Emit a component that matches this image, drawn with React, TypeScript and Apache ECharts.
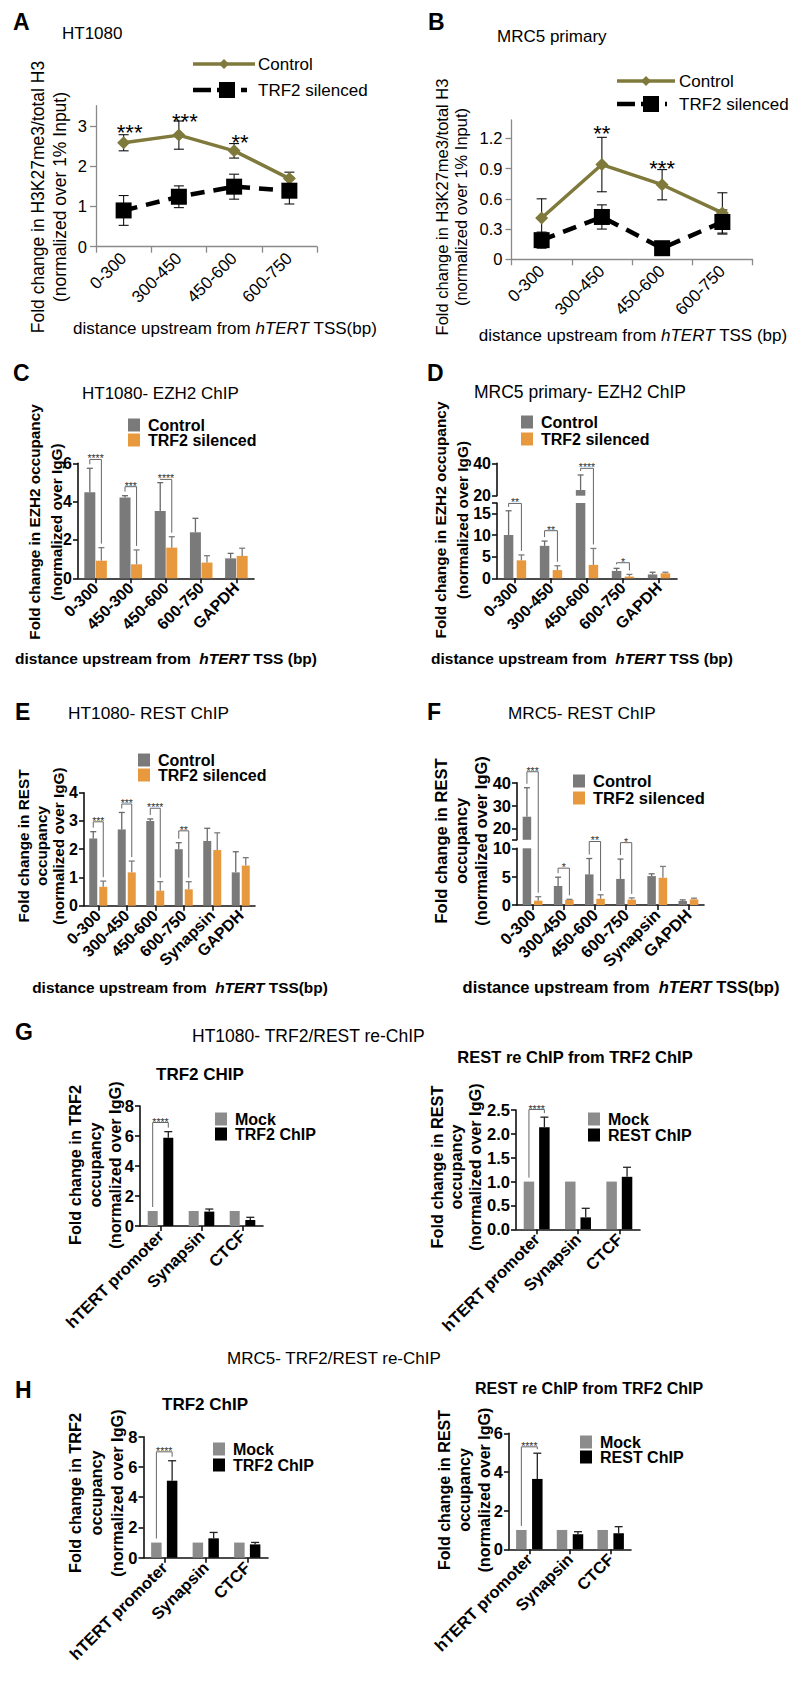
import React, { useEffect, useRef } from 'react';
import * as echarts from 'echarts';

const FONT = '"Liberation Sans", Arial, Helvetica, sans-serif';
const OLIVE = '#7f7a3c';
const GRAY = '#7a7a7a';
const ORANGE = '#e8983d';
const MOCK = '#8c8c8c';
const BLACK = '#000000';

// ---------------- data ----------------
const lineCats = ['0-300', '300-450', '450-600', '600-750'];

// A  HT1080 H3K27me3
const aControl = [2.58, 2.77, 2.38, 1.69];
const aControlErr = [0.2, 0.35, 0.18, 0.16];
const aSilenced = [0.9, 1.24, 1.49, 1.39];
const aSilencedErr = [0.37, 0.27, 0.31, 0.33];
const aStars: [number, number, string][] = [[0, 2.95, '***'], [1, 3.22, '***'], [2, 2.72, '**']];
const aTicks = [0, 1, 2, 3];

// B  MRC5 H3K27me3
const bControl = [0.41, 0.94, 0.74, 0.46];
const bControlErr = [0.19, 0.27, 0.15, 0.2];
const bSilenced = [0.19, 0.42, 0.11, 0.37];
const bSilencedErr = [0.08, 0.12, 0.03, 0.12];
const bStars: [number, number, string][] = [[1, 1.3, '**'], [2, 0.955, '***']];
const bTicks = [0, 0.3, 0.6, 0.9, 1.2];

// C  HT1080 EZH2
const cCats = ['0-300', '450-300', '450-600', '600-750', 'GAPDH'];
const cControl = [4.49, 4.21, 3.51, 2.4, 1.04];
const cControlErr = [1.25, 0.1, 1.48, 0.73, 0.26];
const cSilenced = [0.92, 0.73, 1.6, 0.82, 1.17];
const cSilencedErr = [0.68, 0.75, 0.57, 0.36, 0.4];
const cSig: [number, number, string][] = [[0, 6.2, '****'], [1, 4.78, '***'], [2, 5.16, '****']];

// D  MRC5 EZH2
const dCats = ['0-300', '300-450', '450-600', '600-750', 'GAPDH'];
const dControl = [10, 7.5, 23.5, 1.7, 0.9];
const dControlErr = [5.6, 1.1, 9.3, 0.6, 0.5];
const dSilenced = [4.15, 1.9, 3.1, 0.4, 1.15];
const dSilencedErr = [1.25, 1.0, 3.8, 0.5, 0.25];
const dSig: [number, number, string][] = [[0, 17.3, '**'], [1, 11.0, '**'], [2, 36.9, '****'], [3, 3.6, '*']];

// E  HT1080 REST
const restCats = ['0-300', '300-450', '450-600', '600-750', 'Synapsin', 'GAPDH'];
const eControl = [2.38, 2.7, 3.0, 2.0, 2.29, 1.18];
const eControlErr = [0.24, 0.6, 0.07, 0.23, 0.45, 0.73];
const eSilenced = [0.67, 1.18, 0.53, 0.58, 1.97, 1.42];
const eSilencedErr = [0.2, 0.4, 0.32, 0.27, 0.61, 0.28];
const eSig: [number, number, string][] = [[0, 2.97, '***'], [1, 3.6, '***'], [2, 3.45, '****'], [3, 2.65, '**']];

// F  MRC5 REST
const fControl = [25.1, 3.35, 5.4, 4.6, 5.1, 0.7];
const fControlErr = [12.7, 1.55, 2.8, 3.5, 0.4, 0.2];
const fSilenced = [0.76, 0.9, 1.1, 0.95, 4.8, 1.0];
const fSilencedErr = [0.7, 0.1, 0.7, 0.3, 2.0, 0.2];
const fSig: [number, number, string][] = [[0, 44.8, '***'], [1, 6.5, '*'], [2, 11.2, '**'], [3, 11.0, '*']];

// G / H  re-ChIP
const reCats = ['hTERT promoter', 'Synapsin', 'CTCF'];
const mock = [1, 1, 1];
const mockErr = [0, 0, 0];
const gTrf2 = [5.89, 0.96, 0.4];
const gTrf2Err = [0.4, 0.17, 0.18];
const gRest = [2.14, 0.25, 1.1];
const gRestErr = [0.21, 0.19, 0.2];
const hTrf2 = [5.09, 1.28, 0.88];
const hTrf2Err = [1.32, 0.39, 0.13];
const hRest = [3.64, 0.78, 0.83];
const hRestErr = [1.33, 0.13, 0.34];
const gTrf2Sig: [number, number, string][] = [[0, 6.9, '****']];
const gRestSig: [number, number, string][] = [[0, 2.51, '****']];
const hTrf2Sig: [number, number, string][] = [[0, 7.0, '****']];
const hRestSig: [number, number, string][] = [[0, 5.3, '****']];

// ---------------- helpers ----------------
function txt(x: number, y: number, text: string, o: any = {}) {
  const align = o.align || 'left';
  return {
    type: 'text',
    x,
    y,
    rotation: o.rotation || 0,
    silent: true,
    z: 50,
    style: {
      text,
      fill: o.color || '#000',
      fontFamily: FONT,
      fontSize: o.size || 16,
      fontWeight: o.bold ? 'bold' : 'normal',
      fontStyle: o.italic ? 'italic' : 'normal',
      align,
      verticalAlign: 'middle',
      textAlign: align,
      textVerticalAlign: 'middle',
      rich: o.rich,
    },
  };
}

function vLines(cx: number, cy: number, lines: string[], size: number, bold: boolean, gap: number) {
  return lines.map((t, i) =>
    txt(cx + (i - (lines.length - 1) / 2) * gap, cy, t, { size, bold, align: 'center', rotation: Math.PI / 2 })
  );
}

function xName(cx: number, cy: number, before: string, after: string, size: number, bold: boolean) {
  const base = { fontFamily: FONT, fontSize: size, fontWeight: bold ? 'bold' : 'normal', fill: '#000' };
  return txt(cx, cy, `{n|${before}}{i|hTERT}{n|${after}}`, {
    align: 'center',
    size,
    bold,
    rich: { n: { ...base }, i: { ...base, fontStyle: 'italic' } },
  });
}

function boxLegend(x: number, y: number, color: string, label: string, size = 16) {
  return [
    { type: 'rect', silent: true, z: 50, shape: { x, y: y - 6.5, width: 12, height: 13 }, style: { fill: color } },
    txt(x + 20, y, label, { size, bold: true }),
  ];
}

function lineLegend(x1: number, x2: number, y: number, dashed: boolean, label: string, textX: number) {
  const mid = dashed ? x1 + 34 : (x1 + x2) / 2;
  const els: any[] = [
    {
      type: 'line',
      silent: true,
      z: 50,
      shape: { x1, y1: y, x2, y2: y },
      style: dashed
        ? { stroke: BLACK, lineWidth: 4.5, lineDash: [18, 6] }
        : { stroke: OLIVE, lineWidth: 3.5 },
    },
  ];
  if (dashed) {
    els.push({ type: 'rect', silent: true, z: 51, shape: { x: mid - 8, y: y - 8, width: 16, height: 16 }, style: { fill: BLACK } });
  } else {
    els.push({
      type: 'polygon',
      silent: true,
      z: 51,
      shape: { points: [[mid, y - 5], [mid + 5, y], [mid, y + 5], [mid - 5, y]] },
      style: { fill: OLIVE },
    });
  }
  els.push(txt(textX, y, label, { size: 17 }));
  return els;
}

// ---------------- panel builders ----------------
function buildLine(p: any, opt: any) {
  const gi = opt.grid.length;
  opt.grid.push({ left: p.left, top: p.top, width: p.width, height: p.height, containLabel: false, outerBoundsMode: 'none' });
  const axisCol = '#8a8a8a';
  opt.xAxis.push({
    type: 'category',
    gridIndex: gi,
    data: lineCats,
    boundaryGap: true,
    axisLine: { show: true, lineStyle: { color: axisCol, width: 1.3 } },
    axisTick: { show: true, length: 6, lineStyle: { color: axisCol, width: 1.3 } },
    axisLabel: { interval: 0, rotate: 45, margin: 9, color: '#000', fontFamily: FONT, fontSize: 17 },
    splitLine: { show: false },
  });
  opt.yAxis.push({
    type: 'value',
    gridIndex: gi,
    min: 0,
    max: p.max,
    axisLine: { show: true, lineStyle: { color: axisCol, width: 1.3 } },
    axisTick: { show: true, length: 6, customValues: p.ticks, lineStyle: { color: axisCol, width: 1.3 } },
    axisLabel: { customValues: p.ticks, margin: 9, color: '#000', fontFamily: FONT, fontSize: 16.5 },
    splitLine: { show: false },
  });
  const errData: number[][] = [];
  p.control.forEach((v: number, c: number) => errData.push([c, v, p.controlErr[c]]));
  p.silenced.forEach((v: number, c: number) => errData.push([c, v, p.silencedErr[c]]));
  opt.series.push({
    type: 'custom',
    xAxisIndex: gi,
    yAxisIndex: gi,
    silent: true,
    z: 1,
    encode: { x: 0, y: 1 },
    data: errData,
    renderItem: (_params: any, api: any) => {
      const c = api.value(0);
      const v = api.value(1);
      const e = api.value(2);
      const hi = api.coord([c, v + e]);
      const lo = api.coord([c, Math.max(0, v - e)]);
      const x = hi[0];
      const st = { stroke: '#111', lineWidth: 1.1 };
      return {
        type: 'group',
        children: [
          { type: 'line', shape: { x1: x, y1: hi[1], x2: x, y2: lo[1] }, style: st },
          { type: 'line', shape: { x1: x - 5, y1: hi[1], x2: x + 5, y2: hi[1] }, style: st },
          { type: 'line', shape: { x1: x - 5, y1: lo[1], x2: x + 5, y2: lo[1] }, style: st },
        ],
      };
    },
  });
  opt.series.push({
    type: 'line',
    name: 'Control',
    xAxisIndex: gi,
    yAxisIndex: gi,
    data: p.control,
    symbol: 'diamond',
    symbolSize: 13,
    lineStyle: { color: OLIVE, width: 3.5 },
    itemStyle: { color: OLIVE },
    z: 2,
    silent: true,
  });
  opt.series.push({
    type: 'line',
    name: 'TRF2 silenced',
    xAxisIndex: gi,
    yAxisIndex: gi,
    data: p.silenced,
    symbol: 'rect',
    symbolSize: 16,
    lineStyle: { color: BLACK, width: 4.5, type: [14, 9] },
    itemStyle: { color: BLACK },
    z: 3,
    silent: true,
  });
  return (chart: any) =>
    p.stars.map(([c, y, t]: [number, number, string]) => {
      const pt = chart.convertToPixel({ gridIndex: gi }, [c, y]);
      return txt(pt[0] + p.starDx, pt[1] + 5, t, { size: 22, align: 'center' });
    });
}

function buildBar(p: any, opt: any) {
  const idx: number[] = [];
  const breakAt = p.segs.length > 1 ? p.segs[0].max : Infinity;
  const off = (p.barWidth * (1 + p.gap)) / 2;
  p.segs.forEach((s: any, si: number) => {
    const gi = opt.grid.length;
    idx.push(gi);
    const lower = si === 0;
    opt.grid.push({ left: p.left, top: s.top, width: p.width, height: s.height, containLabel: false, outerBoundsMode: 'none' });
    opt.xAxis.push({
      type: 'category',
      gridIndex: gi,
      data: p.cats,
      show: lower,
      axisLine: { show: true, onZero: false, lineStyle: { color: '#111', width: 1.6 } },
      axisTick: { show: true, alignWithLabel: true, length: 5, lineStyle: { color: '#111', width: 1.6 } },
      axisLabel: { interval: 0, rotate: 45, margin: 7, color: '#000', fontFamily: FONT, fontWeight: 'bold', fontSize: p.labelSize },
      splitLine: { show: false },
    });
    opt.yAxis.push({
      type: 'value',
      gridIndex: gi,
      min: s.min,
      max: s.max,
      axisLine: { show: true, lineStyle: { color: '#111', width: 1.6 } },
      axisTick: { show: true, length: 5, customValues: s.ticks, lineStyle: { color: '#111', width: 1.6 } },
      axisLabel: {
        customValues: s.labels,
        margin: 6,
        color: '#000',
        fontFamily: FONT,
        fontWeight: 'bold',
        fontSize: p.tickSize,
        formatter: (v: number) => (s.dec ? v.toFixed(s.dec) : String(v)),
      },
      splitLine: { show: false },
    });
    [0, 1].forEach((k) => {
      opt.series.push({
        type: 'bar',
        name: p.names[k],
        xAxisIndex: gi,
        yAxisIndex: gi,
        clip: true,
        silent: true,
        barWidth: p.barWidth,
        barGap: `${p.gap * 100}%`,
        itemStyle: { color: p.colors[k] },
        data: p.vals[k].map((v: number) => (lower || v > breakAt ? v : '-')),
        z: 2,
      });
    });
    const errData: number[][] = [];
    [0, 1].forEach((k) =>
      p.vals[k].forEach((v: number, c: number) => {
        const e = p.errs[k][c];
        if (!(e > 0)) return;
        const inThis = lower ? v <= breakAt : v > breakAt;
        if (inThis) errData.push([c, v, e, k]);
      })
    );
    opt.series.push({
      type: 'custom',
      xAxisIndex: gi,
      yAxisIndex: gi,
      silent: true,
      z: 3,
      encode: { x: 0, y: 1 },
      data: errData,
      renderItem: (_params: any, api: any) => {
        const c = api.value(0);
        const v = api.value(1);
        const e = api.value(2);
        const k = api.value(3);
        const base = api.coord([c, v]);
        const top = api.coord([c, v + e]);
        const x = base[0] + (k === 0 ? -off : off);
        const st = { stroke: p.errColors[k], lineWidth: 1.3 };
        return {
          type: 'group',
          children: [
            { type: 'line', shape: { x1: x, y1: base[1], x2: x, y2: top[1] }, style: st },
            { type: 'line', shape: { x1: x - p.cap / 2, y1: top[1], x2: x + p.cap / 2, y2: top[1] }, style: st },
          ],
        };
      },
    });
  });
  return (chart: any) => {
    const upperMin = p.segs.length > 1 ? p.segs[1].min : Infinity;
    const pt = (c: number, v: number) =>
      chart.convertToPixel({ gridIndex: v >= upperMin ? idx[1] : idx[0] }, [c, v]);
    const els: any[] = [];
    p.sig.forEach(([c, y, t]: [number, number, string]) => {
      const cx = pt(c, 0)[0];
      const xL = cx - off;
      const xR = cx + off;
      const hy = pt(c, y)[1];
      const yL = pt(c, p.vals[0][c] + p.errs[0][c])[1] - 4;
      const yR = pt(c, p.vals[1][c] + p.errs[1][c])[1] - 4;
      els.push({
        type: 'polyline',
        silent: true,
        z: 40,
        shape: { points: [[xL, yL], [xL, hy], [xR, hy], [xR, yR]] },
        style: { stroke: '#666', lineWidth: 1, fill: 'none' },
      });
      els.push(txt((xL + xR) / 2, hy - 1, t, { size: 10.5, align: 'center', color: '#333' }));
    });
    return els;
  };
}

function buildOption() {
  const opt: any = {
    animation: false,
    backgroundColor: '#ffffff',
    grid: [],
    xAxis: [],
    yAxis: [],
    series: [],
  };
  const posts: any[] = [];

  posts.push(
    buildLine(
      { left: 96, top: 105.7, width: 221, height: 141, max: 3.5, ticks: aTicks, control: aControl, controlErr: aControlErr, silenced: aSilenced, silencedErr: aSilencedErr, stars: aStars, starDx: 6 },
      opt
    )
  );
  posts.push(
    buildLine(
      { left: 511.5, top: 120, width: 241, height: 139.3, max: 1.382, ticks: bTicks, control: bControl, controlErr: bControlErr, silenced: bSilenced, silencedErr: bSilencedErr, stars: bStars, starDx: 0 },
      opt
    )
  );

  const cfCommon = { names: ['Control', 'TRF2 silenced'], colors: [GRAY, ORANGE], errColors: ['#6a6a6a', '#7d7d7d'], cap: 6, labelSize: 16, tickSize: 16 };
  posts.push(
    buildBar(
      {
        ...cfCommon,
        cats: cCats,
        left: 78,
        width: 176,
        segs: [{ top: 463.3, height: 115, min: 0, max: 6, labels: [0, 2, 4, 6], ticks: [0, 2, 4, 6] }],
        vals: [cControl, cSilenced],
        errs: [cControlErr, cSilencedErr],
        barWidth: 11,
        gap: 0.05,
        sig: cSig,
      },
      opt
    )
  );
  posts.push(
    buildBar(
      {
        ...cfCommon,
        cats: dCats,
        left: 497,
        width: 180,
        segs: [
          { top: 503, height: 75.3, min: 0, max: 17.4, labels: [0, 5, 10, 15], ticks: [0, 5, 10, 15, 17.4] },
          { top: 463.3, height: 32.4, min: 20, max: 40, labels: [20, 40], ticks: [20, 40] },
        ],
        vals: [dControl, dSilenced],
        errs: [dControlErr, dSilencedErr],
        barWidth: 9.5,
        gap: 0.35,
        sig: dSig,
      },
      opt
    )
  );
  posts.push(
    buildBar(
      {
        ...cfCommon,
        cats: restCats,
        left: 84,
        width: 171,
        segs: [{ top: 792.7, height: 113, min: 0, max: 4, labels: [0, 1, 2, 3, 4], ticks: [0, 1, 2, 3, 4] }],
        vals: [eControl, eSilenced],
        errs: [eControlErr, eSilencedErr],
        barWidth: 8,
        gap: 0.25,
        sig: eSig,
      },
      opt
    )
  );
  posts.push(
    buildBar(
      {
        ...cfCommon,
        cats: restCats,
        left: 517,
        width: 187,
        labelSize: 16.5,
        tickSize: 16.5,
        segs: [
          { top: 848.3, height: 56.7, min: 0, max: 10, labels: [0, 5, 10], ticks: [0, 5, 10] },
          { top: 782.7, height: 57.1, min: 15, max: 40, labels: [20, 30, 40], ticks: [15, 20, 30, 40] },
        ],
        vals: [fControl, fSilenced],
        errs: [fControlErr, fSilencedErr],
        barWidth: 8.5,
        gap: 0.33,
        sig: fSig,
      },
      opt
    )
  );

  const reCommon = { cats: reCats, colors: [MOCK, BLACK], errColors: ['#555', '#222'], cap: 8, labelSize: 16.5, tickSize: 16.5 };
  posts.push(
    buildBar(
      {
        ...reCommon,
        names: ['Mock', 'TRF2 ChIP'],
        left: 140,
        width: 123,
        segs: [{ top: 1106, height: 120, min: 0, max: 8, labels: [0, 2, 4, 6, 8], ticks: [0, 2, 4, 6, 8] }],
        vals: [mock, gTrf2],
        errs: [mockErr, gTrf2Err],
        barWidth: 10,
        gap: 0.56,
        sig: gTrf2Sig,
      },
      opt
    )
  );
  posts.push(
    buildBar(
      {
        ...reCommon,
        names: ['Mock', 'REST ChIP'],
        left: 516,
        width: 124,
        segs: [{ top: 1110, height: 119.3, min: 0, max: 2.5, labels: [0, 0.5, 1, 1.5, 2, 2.5], ticks: [0, 0.5, 1, 1.5, 2, 2.5], dec: 1 }],
        vals: [mock, gRest],
        errs: [mockErr, gRestErr],
        barWidth: 10.5,
        gap: 0.47,
        sig: gRestSig,
      },
      opt
    )
  );
  posts.push(
    buildBar(
      {
        ...reCommon,
        names: ['Mock', 'TRF2 ChIP'],
        left: 143.5,
        width: 124.5,
        segs: [{ top: 1436.7, height: 121, min: 0, max: 8, labels: [0, 2, 4, 6, 8], ticks: [0, 2, 4, 6, 8] }],
        vals: [mock, hTrf2],
        errs: [mockErr, hTrf2Err],
        barWidth: 10.5,
        gap: 0.5,
        sig: hTrf2Sig,
      },
      opt
    )
  );
  posts.push(
    buildBar(
      {
        ...reCommon,
        names: ['Mock', 'REST ChIP'],
        left: 509,
        width: 122,
        segs: [{ top: 1433.3, height: 116, min: 0, max: 6, labels: [0, 2, 4, 6], ticks: [0, 2, 4, 6] }],
        vals: [mock, hRest],
        errs: [mockErr, hRestErr],
        barWidth: 10.5,
        gap: 0.52,
        sig: hRestSig,
      },
      opt
    )
  );

  return { opt, posts };
}

function staticGraphics() {
  const g: any[] = [];
  // panel letters
  const letters: [string, number, number][] = [
    ['A', 13, 22], ['B', 428, 22], ['C', 13, 373], ['D', 427, 373],
    ['E', 15, 712], ['F', 427, 712], ['G', 15, 1032], ['H', 15, 1390],
  ];
  letters.forEach(([t, x, y]) => g.push(txt(x, y, t, { size: 23, bold: true })));
  // titles
  g.push(txt(62, 33, 'HT1080', { size: 17 }));
  g.push(txt(497, 36, 'MRC5 primary', { size: 17 }));
  g.push(txt(82, 393, 'HT1080- EZH2 ChIP', { size: 17 }));
  g.push(txt(474, 392, 'MRC5 primary- EZH2 ChIP', { size: 17.5 }));
  g.push(txt(68, 713, 'HT1080- REST ChIP', { size: 17.3 }));
  g.push(txt(508, 713, 'MRC5- REST ChIP', { size: 17.2 }));
  g.push(txt(192, 1036, 'HT1080- TRF2/REST re-ChIP', { size: 17.5 }));
  g.push(txt(227, 1358, 'MRC5- TRF2/REST re-ChIP', { size: 17 }));
  g.push(txt(200, 1074, 'TRF2 CHIP', { size: 17, bold: true, align: 'center' }));
  g.push(txt(575, 1057, 'REST re ChIP from TRF2 ChIP', { size: 16.5, bold: true, align: 'center' }));
  g.push(txt(205, 1404, 'TRF2 ChIP', { size: 17, bold: true, align: 'center' }));
  g.push(txt(589, 1388, 'REST re ChIP from TRF2 ChIP', { size: 16, bold: true, align: 'center' }));

  // legends
  g.push(...lineLegend(193, 255, 64, false, 'Control', 258));
  g.push(...lineLegend(193, 247, 90, true, 'TRF2 silenced', 258));
  g.push(...lineLegend(617, 675, 81, false, 'Control', 679));
  g.push(...lineLegend(617, 667, 104, true, 'TRF2 silenced', 679));
  g.push(...boxLegend(128, 425, GRAY, 'Control'), ...boxLegend(128, 440, ORANGE, 'TRF2 silenced'));
  g.push(...boxLegend(521, 422, GRAY, 'Control'), ...boxLegend(521, 439, ORANGE, 'TRF2 silenced'));
  g.push(...boxLegend(138, 760, GRAY, 'Control'), ...boxLegend(138, 775, ORANGE, 'TRF2 silenced'));
  g.push(...boxLegend(573, 781, GRAY, 'Control', 16.5), ...boxLegend(573, 798, ORANGE, 'TRF2 silenced', 16.5));
  g.push(...boxLegend(215, 1119, MOCK, 'Mock'), ...boxLegend(215, 1134, BLACK, 'TRF2 ChIP'));
  g.push(...boxLegend(588, 1119, MOCK, 'Mock'), ...boxLegend(588, 1135, BLACK, 'REST ChIP'));
  g.push(...boxLegend(213, 1449, MOCK, 'Mock'), ...boxLegend(213, 1465, BLACK, 'TRF2 ChIP'));
  g.push(...boxLegend(580, 1442, MOCK, 'Mock'), ...boxLegend(580, 1457, BLACK, 'REST ChIP'));

  // y axis names
  g.push(...vLines(49, 197, ['Fold change in H3K27me3/total H3', '(normalized over 1% Input)'], 17.5, false, 22));
  g.push(...vLines(451, 207, ['Fold change in H3K27me3/total H3', '(normalized over 1% Input)'], 16.5, false, 19));
  g.push(...vLines(45, 522, ['Fold change in EZH2 occupancy', '(normalized over IgG)'], 15.3, true, 22));
  g.push(...vLines(451, 520, ['Fold change in EZH2 occupancy', '(normalized over IgG)'], 15.4, true, 22));
  g.push(...vLines(41, 846, ['Fold change in REST', 'occupancy', '(normalized over IgG)'], 15.3, true, 17.5));
  g.push(...vLines(461, 841, ['Fold change in REST', 'occupancy', '(normalized over IgG)'], 16.5, true, 20));
  g.push(...vLines(95, 1165, ['Fold change in TRF2', 'occupancy', '(normalized over IgG)'], 16.3, true, 20));
  g.push(...vLines(456, 1167, ['Fold change in REST', 'occupancy', '(normalized over IgG)'], 16.3, true, 19));
  g.push(...vLines(96, 1493, ['Fold change in TRF2', 'occupancy', '(normalized over IgG)'], 16.3, true, 21));
  g.push(...vLines(464, 1490, ['Fold change in REST', 'occupancy', '(normalized over IgG)'], 16, true, 20));

  // x axis names
  g.push(xName(225, 328, 'distance upstream from ', ' TSS(bp)', 17, false));
  g.push(xName(633, 335, 'distance upstream from ', ' TSS (bp)', 17, false));
  g.push(xName(166, 658, 'distance upstream from  ', ' TSS (bp)', 15.5, true));
  g.push(xName(582, 658, 'distance upstream from  ', ' TSS (bp)', 15.5, true));
  g.push(xName(180, 987, 'distance upstream from  ', ' TSS(bp)', 15.4, true));
  g.push(xName(621, 987, 'distance upstream from  ', ' TSS(bp)', 16.5, true));
  return g;
}

export default function App() {
  const ref = useRef<HTMLDivElement>(null);
  useEffect(() => {
    document.body.style.margin = '0';
    const chart = echarts.init(ref.current as HTMLDivElement, null, { renderer: 'svg' });
    const { opt, posts } = buildOption();
    chart.setOption(opt);
    const dyn: any[] = [];
    posts.forEach((f: any) => dyn.push(...f(chart)));
    chart.setOption({ graphic: { elements: [...staticGraphics(), ...dyn] } });
    return () => chart.dispose();
  }, []);
  return <div ref={ref} style={{ width: 800, height: 1685, background: '#fff' }} />;
}
